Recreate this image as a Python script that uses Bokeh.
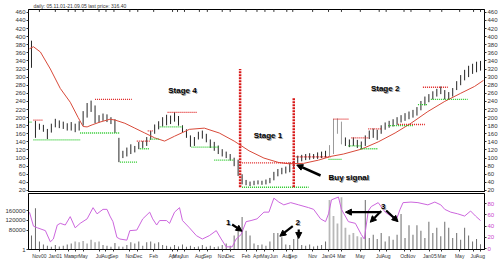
import numpy as np
from bokeh.plotting import figure
from bokeh.models import Range1d, LinearAxis, FixedTicker, Label, Arrow, NormalHead
from bokeh.layouts import column
from bokeh.embed import file_html
from bokeh.resources import INLINE

FONT = "Liberation Sans"

# ---------------- data ----------------
# bar positions in weeks (one bar every 2 weeks)
bar_weeks = np.arange(1.5, 228.0, 2.0)

price_high = [390, 192, 185, 182, 172, 185, 197, 193, 190, 186, 189, 185, 191, 216, 236, 242, 230, 206, 210, 208,
              201, 196, 150, 118, 126, 134, 130, 140, 142, 152, 167, 183, 191, 201, 207, 205, 213, 204, 181, 171,
              156, 152, 165, 168, 160, 146, 140, 131, 122, 116, 110, 101, 96, 60, 46, 42, 44, 45, 44, 47,
              51, 66, 73, 76, 79, 89, 93, 106, 108, 110, 112, 110, 114, 116, 118, 132, 197, 198, 190, 151,
              146, 151, 145, 141, 156, 168, 173, 170, 181, 188, 192, 196, 201, 206, 211, 215, 219, 226, 241, 252,
              258, 265, 271, 277, 268, 263, 273, 290, 305, 318, 328, 333, 338, 340]
price_low = [323, 150, 170, 165, 147, 163, 176, 174, 172, 168, 168, 164, 168, 180, 200, 214, 186, 188, 192, 189,
             184, 162, 90, 100, 104, 110, 114, 122, 125, 130, 145, 160, 171, 178, 181, 184, 190, 180, 164, 150,
             128, 130, 146, 148, 139, 125, 118, 110, 104, 100, 94, 80, 56, 35, 33, 31, 33, 35, 34, 35,
             38, 45, 55, 60, 62, 65, 75, 88, 92, 95, 96, 98, 98, 100, 101, 105, 110, 160, 134, 130,
             127, 130, 125, 122, 130, 147, 150, 145, 160, 170, 175, 178, 182, 188, 192, 196, 200, 205, 218, 230,
             238, 245, 252, 258, 245, 245, 252, 268, 280, 292, 300, 308, 312, 316]

volume_k = [57, 169, 33, 21, 15, 11, 18, 12, 15, 21, 25, 33, 30, 35, 25, 40, 30, 33, 18, 15,
            11, 27, 12, 11, 18, 30, 25, 33, 15, 30, 33, 25, 30, 18, 15, 11, 18, 12, 21, 11,
            15, 10, 12, 18, 11, 15, 10, 12, 18, 25, 15, 57, 89, 133, 77, 57, 25, 18, 21, 15,
            33, 68, 68, 50, 21, 18, 43, 61, 18, 15, 21, 12, 15, 18, 33, 203, 138, 107, 215, 89,
            61, 68, 54, 50, 203, 47, 61, 43, 68, 33, 54, 40, 61, 146, 47, 100, 61, 100, 77, 47,
            114, 68, 89, 54, 114, 89, 47, 68, 40, 89, 57, 33, 43, 22]

ma_weeks = [0.5, 2.5, 6, 11, 16, 21, 25, 27.5, 29.5, 32, 36, 41, 43.5, 48.5, 53.5, 58.5, 63.5, 68.5, 73.5, 81,
            88.5, 96, 103.5, 111, 118.5, 126, 131, 138.5, 146, 152, 158.5, 167.5, 176, 184.5, 192.5, 201, 209.5,
            217.5, 224.5, 229]
ma_values = [370, 375, 362, 320, 272, 238, 200, 178, 177, 182, 189, 196, 194, 186, 174, 162, 150, 142, 154, 171,
             174, 162, 142, 118, 100, 89, 86, 87, 95, 104, 110, 122, 140, 162, 186, 215, 240, 260, 277, 292]

osc_weeks = [0.5, 2.5, 4.5, 8.5, 11, 12.5, 14.5, 16, 18.5, 21, 23.5, 26, 29.5, 32.5, 34.5, 37.5, 39.5, 41, 42.5,
             44.5, 46, 49.5, 51, 54.5, 57.5, 61, 62.5, 64.5, 66, 69.5, 71, 73.5, 76, 77.5, 81, 84.5, 87.5, 91,
             94.5, 97, 99.5, 102.5, 104.5, 107, 109.5, 112, 115, 118.5, 121, 123.5, 126, 128.5, 132, 136, 141,
             143.5, 147, 149.5, 151, 152.5, 156, 157.5, 161, 164.5, 167.5, 169, 171, 172.5, 176, 179.5, 182.5,
             185, 187, 188.5, 192.5, 196, 201, 204.5, 207.5, 209.5, 212.5, 216, 219.5, 222.5, 225, 227.5]
osc_values = [65, 40, 37, 32, 12, 17, 42, 45, 42, 57, 37, 45, 53, 73, 62, 70, 70, 58, 48,
              20, 17, 15, 32, 33, 53, 65, 53, 42, 50, 50, 45, 65, 73, 50, 37, 23, 17, 23,
              32, 17, 3, 3, 17, 25, 48, 50, 53, 65, 65, 90, 83, 78, 82, 78, 73,
              70, 53, 48, 62, 87, 92, 70, 48, 45, 25, 17, 67, 75, 82, 65, 58,
              50, 70, 82, 83, 82, 78, 83, 78, 70, 65, 62, 58, 67, 58, 50]

# resistance (red dotted) and support (green dotted) levels: start week, end week, price
res_start = [2.5, 33.5, 54.5, 60, 70, 106.5, 134.5, 153.5, 162.5, 171, 186, 198.5]
res_end = [7, 52, 61, 62.5, 85, 133.5, 152, 161, 171, 177.5, 199.5, 211]
res_level = [194, 245, 142, 167, 213, 88, 103, 196, 150, 172, 183, 275]

sup_start = [0, 2.5, 26, 46, 56, 61, 66, 82, 93.5, 107.5, 151, 161, 167, 181, 196, 202.5]
sup_end = [2, 26, 46, 55, 61, 66, 77.5, 96, 103.5, 141, 157.5, 167.5, 176, 193.5, 201, 221]
sup_level = [189, 145, 162, 90, 123, 147, 177, 127, 95, 28, 97, 130, 123, 180, 232, 245]

# stage boundaries (week, top price, bottom price)
stage_weeks = [106.5, 133.5]
stage_top = [320, 250]
stage_bottom = [28, 28]

tick_weeks = [5.5, 13.5, 20, 23.5, 27.5, 35.5, 39, 43, 51, 55, 63, 72.5, 75, 78.5, 86, 90, 97.5, 101.5, 109.5,
              115, 119, 123.5, 130, 133, 143, 151, 157.5, 167, 176.5, 180, 189, 192.5, 202, 208, 217, 224, 227.5]
tick_labels = ["Nov00", "Jan01", "Mar", "apr", "May", "Jul", "Aug", "Sep", "Nov", "Dec", "Feb", "Apr", "May", "Jun",
               "Aug", "Sep", "Nov", "Dec", "Feb", "Apr", "May", "Jun", "Aug", "Sep", "Nov", "Jan04", "Mar", "May",
               "Jul", "Aug", "Oct", "Nov", "Jan05", "Mar", "May", "Jul", "Aug"]

price_ticks = list(range(20, 461, 20))
vol_ticks = [0, 80000, 120000, 160000]
vol_tick_labels = ["1", "80000", "120000", "160000"]
osc_ticks = [0, 20, 40, 60, 80]

assert len(price_high) == len(bar_weeks) == len(price_low) == len(volume_k)

# ---------------- top panel ----------------
X_RANGE = Range1d(0, 229.5)
PRICE_RANGE = Range1d(15, 467)
p = figure(width=500, height=192, x_range=X_RANGE, y_range=PRICE_RANGE,
           output_backend="svg", toolbar_location=None,
           min_border_left=28, min_border_right=13, min_border_top=0, min_border_bottom=0,
           x_axis_location=None, y_axis_location=None)
p.grid.visible = False
p.outline_line_color = "black"
p.outline_line_width = 1
p.title.text = "daily: 05.11.01-21.09.05   last price: 316.40"
p.title.text_font = FONT
p.title.text_font_size = "5px"
p.title.text_font_style = "normal"
p.title.text_color = "#333333"
p.title.text_line_height = 1.0
p.title.offset = 5
p.title.standoff = 1


def style_axis(ax, size="6px", color="#333333"):
    ax.major_label_text_font = FONT
    ax.major_label_text_font_size = size
    ax.major_label_text_color = color
    ax.major_tick_out = 2
    ax.major_tick_in = 0
    ax.minor_tick_out = 0
    ax.minor_tick_in = 0
    ax.major_label_standoff = 1
    ax.axis_line_color = "black"
    ax.major_tick_line_color = "#333333"


axL = LinearAxis(ticker=FixedTicker(ticks=price_ticks))
style_axis(axL)
p.add_layout(axL, "left")
axR = LinearAxis(ticker=FixedTicker(ticks=price_ticks))
style_axis(axR)
p.add_layout(axR, "right")

# small tick marks along the top edge, at the month positions
top_end = PRICE_RANGE.end
p.segment(x0=tick_weeks, x1=tick_weeks, y0=[top_end] * len(tick_weeks), y1=[top_end - 6] * len(tick_weeks),
          line_color="#333333", line_width=1)

bar_colors = np.where((bar_weeks > 150) & (bar_weeks < 158), "#9a9a9a", "#262626")
p.segment(x0=bar_weeks, x1=bar_weeks, y0=price_low, y1=price_high, line_color=list(bar_colors), line_width=1)

p.line(ma_weeks, ma_values, line_color="#d84a3a", line_width=1)

p.segment(x0=res_start, x1=res_end, y0=res_level, y1=res_level, line_color="#e02020",
          line_width=1.3, line_dash="1 1")
p.segment(x0=sup_start, x1=sup_end, y0=sup_level, y1=sup_level, line_color="#22c822",
          line_width=1.3, line_dash="1 1")
p.segment(x0=stage_weeks, x1=stage_weeks, y0=stage_bottom, y1=stage_top, line_color="#d81818",
          line_width=2.5, line_dash="2 1")


def shadow_label(fig, x, y, text, align="center", y_range_name="default"):
    fig.add_layout(Label(x=x, y=y, text=text, x_offset=1, y_offset=-1, text_font=FONT, text_font_size="8px",
                         text_font_style="bold", text_color="#9a9a9a", text_align=align,
                         text_baseline="middle", y_range_name=y_range_name))
    fig.add_layout(Label(x=x, y=y, text=text, text_font=FONT, text_font_size="8px",
                         text_font_style="bold", text_color="black", text_align=align,
                         text_baseline="middle", y_range_name=y_range_name))


shadow_label(p, 77.5, 267, "Stage 4")
shadow_label(p, 120.5, 157, "Stage 1")
shadow_label(p, 179.5, 272, "Stage 2")
shadow_label(p, 151, 52, "Buy signal", align="left")

p.add_layout(Arrow(end=NormalHead(size=6, fill_color="black", line_color="black"),
                   x_start=147, y_start=57, x_end=135, y_end=83, line_width=2.5, line_color="black"))

# ---------------- bottom panel ----------------
q = figure(width=500, height=69, x_range=X_RANGE, y_range=Range1d(0, 230000),
           output_backend="svg", toolbar_location=None,
           min_border_left=28, min_border_right=13, min_border_top=1, min_border_bottom=0,
           x_axis_location=None, y_axis_location=None)
q.extra_y_ranges = {"osc": Range1d(-1.7, 98.3)}
q.grid.visible = False
q.outline_line_color = "black"

qL = LinearAxis(ticker=FixedTicker(ticks=vol_ticks),
                major_label_overrides=dict(zip(vol_ticks, vol_tick_labels)))
style_axis(qL)
q.add_layout(qL, "left")
qR = LinearAxis(ticker=FixedTicker(ticks=osc_ticks), y_range_name="osc")
style_axis(qR, color="#cc44cc")
q.add_layout(qR, "right")
qB = LinearAxis(ticker=FixedTicker(ticks=tick_weeks),
                major_label_overrides=dict(zip(tick_weeks, tick_labels)))
style_axis(qB, size="5px")
q.add_layout(qB, "below")

vol = np.array(volume_k) * 1000
vol_light = ((bar_weeks > 22) & (bar_weeks < 36)) | ((bar_weeks > 150) & (bar_weeks < 169))
vol_colors = np.where(vol_light, "#b8b8b8", "#6a6a6a")
vol_widths = np.where(vol_light, 0.9, 0.5)
q.vbar(x=bar_weeks, top=vol, bottom=0, width=list(vol_widths), fill_color=list(vol_colors), line_color=None)

q.line(osc_weeks, osc_values, y_range_name="osc", line_color="#cc66dd", line_width=1)


def note_arrow(x0, y0, x1, y1):
    q.add_layout(Arrow(end=NormalHead(size=6, fill_color="black", line_color="black"),
                       x_start=x0, y_start=y0, x_end=x1, y_end=y1, line_width=2.2,
                       line_color="black", y_range_name="osc"))


shadow_label(q, 100.5, 47, "1", y_range_name="osc")
note_arrow(102.5, 43, 107.5, 31)
shadow_label(q, 135.5, 47, "2", y_range_name="osc")
note_arrow(133, 40, 126.5, 22)
note_arrow(136, 34, 136, 18)
shadow_label(q, 178.5, 75, "3", y_range_name="osc")
note_arrow(177.5, 65, 159.5, 65)
note_arrow(177.5, 67, 172, 47)
note_arrow(180, 68, 186, 48)

layout = column(p, q)
open("out.html", "w").write(file_html(layout, INLINE))
